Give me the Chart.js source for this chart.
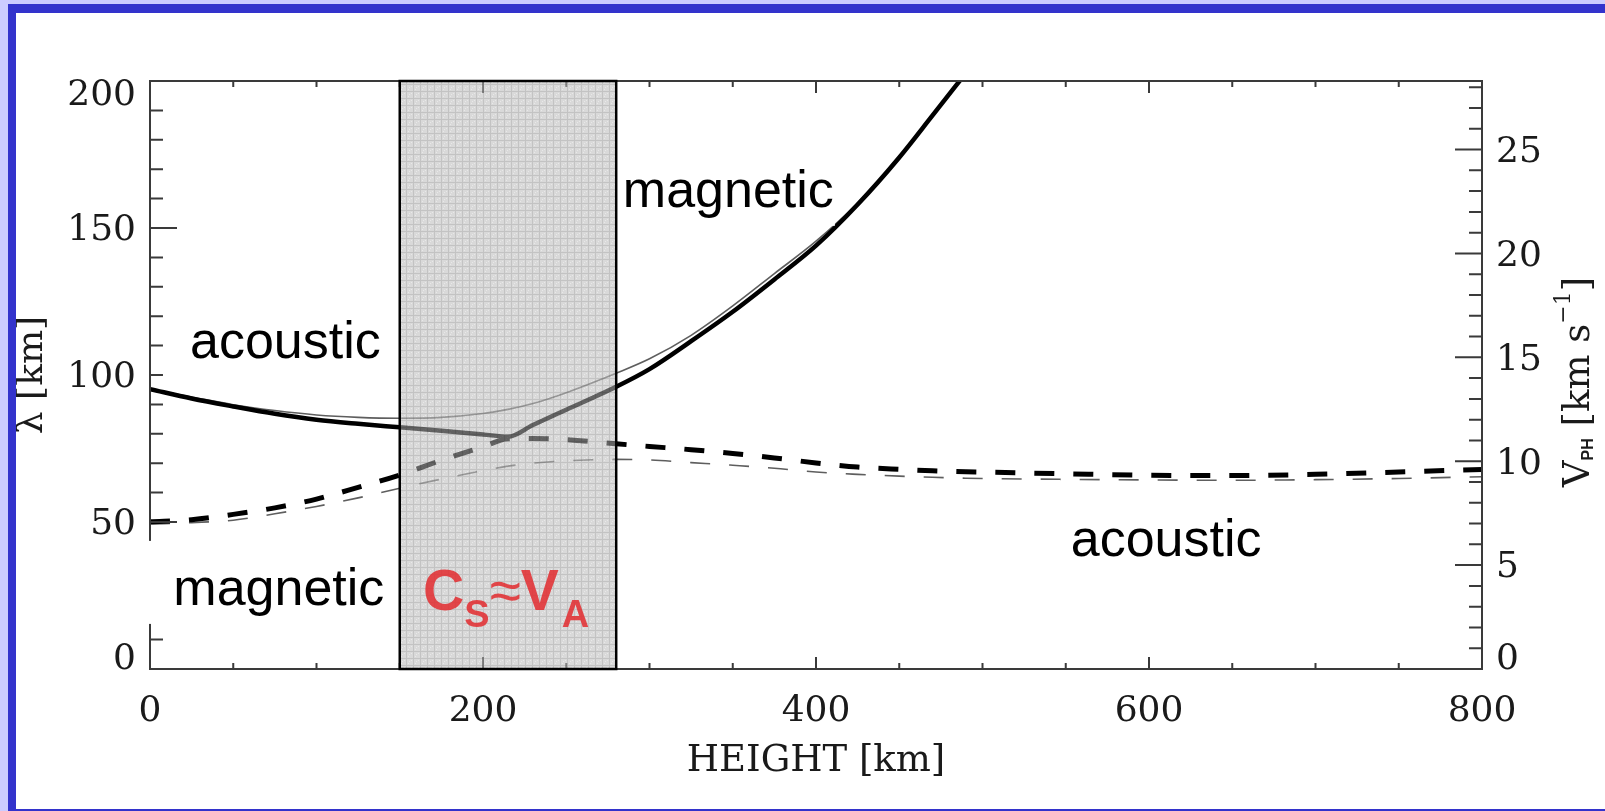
<!DOCTYPE html>
<html>
<head>
<meta charset="utf-8">
<title>Wavelength vs height</title>
<script src="https://cdn.jsdelivr.net/npm/chart.js@4.4.1/dist/chart.umd.min.js"></script>
<style>
  html, body { margin: 0; padding: 0; background: #fff; }
  #wrap { position: relative; width: 1605px; height: 811px; overflow: hidden; background: #fff; }
  #chart { position: absolute; left: 0; top: 0; }
  .frame { position: absolute; pointer-events: none; }
</style>
</head>
<body>
<div id="wrap">
  <canvas id="chart" width="1605" height="811"></canvas>
  <div class="frame" style="left:0;top:0;width:8px;height:811px;background:#ccccff"></div>
  <div class="frame" style="left:0;top:0;width:1605px;height:4px;background:#ccccff"></div>
  <div class="frame" style="left:8px;top:4px;width:8px;height:807px;background:#3333cc"></div>
  <div class="frame" style="left:8px;top:4px;width:1597px;height:9px;background:#3333cc"></div>
  <div class="frame" style="left:8px;top:809px;width:1597px;height:2px;background:#3333cc"></div>
</div>
<script>
// Height grid (km) shared by all four curves
const heightKm = [0, 25, 50, 75, 100, 125, 150, 175, 200, 215, 230, 250, 280, 300, 325, 350,
  375, 400, 425, 450, 470, 490, 500, 550, 600, 650, 700, 750, 800];

// wavelength lambda [km]
const lambdaSolidThick = [95.2, 92.0, 89.3, 86.8, 84.8, 83.4, 82.2, 81.0, 79.8, 79.0, 83.0, 88.2,
  96.0, 102.0, 111.5, 121.5, 132.5, 144.0, 158.0, 174.0, 188.3, 202.7, null, null, null, null, null, null, null];
const lambdaSolidThin = [95.2, 92.5, 89.9, 87.9, 86.4, 85.6, 85.3, 85.6, 86.9, 88.3, 90.3, 94.0,
  100.6, 105.5, 113.5, 123.5, 134.5, 145.5, 158.5, 174.0, 188.3, 202.7, null, null, null, null, null, null, null];
const lambdaDashThick = [50.1, 50.8, 52.6, 54.8, 57.8, 61.8, 66.0, 71.0, 75.6, 78.3, 78.4, 78.0,
  76.6, 75.7, 74.6, 73.3, 71.8, 70.1, 68.7, 67.9, 67.4, 67.1, 67.0, 66.4, 65.9, 65.8, 66.2, 67.0, 67.9];
const lambdaDashThin = [49.3, 49.8, 50.6, 52.8, 55.3, 58.2, 61.5, 64.6, 67.5, 69.0, 70.0, 70.8,
  71.3, 71.1, 70.2, 69.3, 68.3, 67.0, 66.2, 65.6, 65.2, 64.9, 64.8, 64.5, 64.3, 64.2, 64.4, 64.8, 65.4];

// tick labels
const heightTicks = [0, 200, 400, 600, 800];
const lambdaTicks = [0, 50, 100, 150, 200];
const vphTicks = [0, 5, 10, 15, 20, 25];

// region where c_s ~ v_A (km)
const overlapBand = [150, 280];

// region labels: left edge (km) and baseline (lambda)
const regionLabels = [
  { text: 'acoustic', h: 24, lam: 105.8 },
  { text: 'magnetic', h: 14, lam: 21.8 },
  { text: 'magnetic', h: 284, lam: 157.2 },
  { text: 'acoustic', h: 553, lam: 38.4 }
];

const serif = "'DejaVu Serif', 'Liberation Serif', serif";
const sans = "'Liberation Sans', Arial, sans-serif";

const toPoints = ys => heightKm.map((h, i) => ({ x: h, y: ys[i] }));

// end labels sit inside the frame, like the original plot
const edgeLabel = (min, max) => v => {
  if (v === max) return ['', String(v)];
  if (v === min) return [String(v), ''];
  return String(v);
};

// grey hatch used for the shaded band
const hatch = (() => {
  const c = document.createElement('canvas');
  c.width = 7; c.height = 7;
  const g = c.getContext('2d');
  g.fillStyle = '#d9d9d9'; g.fillRect(0, 0, 7, 7);
  g.fillStyle = '#c3c3c3'; g.fillRect(0, 0, 7, 1); g.fillRect(0, 0, 1, 7);
  g.fillStyle = '#e8e8e8'; g.fillRect(3, 3, 1, 1); g.fillRect(5, 2, 1, 1); g.fillRect(2, 5, 1, 1);
  return c;
})();

const bandRect = chart => {
  const { x } = chart.scales;
  const a = chart.chartArea;
  const x0 = x.getPixelForValue(overlapBand[0]);
  const x1 = x.getPixelForValue(overlapBand[1]);
  return { x0, x1, top: a.top, bottom: a.bottom };
};

const figurePlugin = {
  id: 'figure',
  beforeDatasetsDraw(chart) {
    const ctx = chart.ctx;
    const b = bandRect(chart);
    ctx.save();
    ctx.fillStyle = ctx.createPattern(hatch, 'repeat');
    ctx.fillRect(b.x0, b.top, b.x1 - b.x0, b.bottom - b.top);
    ctx.restore();
  },
  afterDatasetsDraw(chart) {
    const ctx = chart.ctx;
    const { x, y, y2 } = chart.scales;
    const a = chart.chartArea;
    ctx.save();

    // axes box and inward ticks
    ctx.strokeStyle = '#3a3a3a';
    ctx.lineWidth = 2;
    ctx.strokeRect(a.left, a.top, a.right - a.left, a.bottom - a.top);
    ctx.beginPath();
    for (let v = 0; v <= 800; v += 50) {
      const px = x.getPixelForValue(v);
      const len = v % 200 === 0 ? 12 : 6;
      ctx.moveTo(px, a.bottom); ctx.lineTo(px, a.bottom - len);
      ctx.moveTo(px, a.top); ctx.lineTo(px, a.top + len);
    }
    for (let v = 0; v <= 200; v += 10) {
      const py = y.getPixelForValue(v);
      const len = v % 50 === 0 ? 27 : 13;
      ctx.moveTo(a.left, py); ctx.lineTo(a.left + len, py);
    }
    for (let v = 0; v <= 28; v += 1) {
      const py = y2.getPixelForValue(v);
      const len = v % 5 === 0 ? 27 : 13;
      ctx.moveTo(a.right, py); ctx.lineTo(a.right - len, py);
    }
    ctx.stroke();

    // veil the band over curves and ticks
    const b = bandRect(chart);
    ctx.globalAlpha = 0.45;
    ctx.fillStyle = ctx.createPattern(hatch, 'repeat');
    ctx.fillRect(b.x0, b.top, b.x1 - b.x0, b.bottom - b.top);
    ctx.globalAlpha = 1;
    ctx.strokeStyle = '#000';
    ctx.lineWidth = 2.5;
    ctx.strokeRect(b.x0, b.top, b.x1 - b.x0, b.bottom - b.top);

    // region labels on white boxes (boxes never overlap the band)
    ctx.font = '52px ' + sans;
    ctx.textBaseline = 'alphabetic';
    ctx.textAlign = 'left';
    regionLabels.forEach(l => {
      const px = x.getPixelForValue(l.h);
      const py = y.getPixelForValue(l.lam);
      const w = ctx.measureText(l.text).width;
      let left = px - 27;
      let right = px + w + 1;
      if (px > b.x1) left = Math.max(left, b.x1 + 2);
      if (px < b.x0) right = Math.min(right + 6, b.x0 - 2);
      ctx.fillStyle = '#fff';
      ctx.fillRect(left, py - 64, right - left, 83);
      ctx.fillStyle = '#000';
      ctx.fillText(l.text, px, py);
    });

    // C_S ~ V_A
    let px = x.getPixelForValue(164);
    const py = y.getPixelForValue(20);
    ctx.fillStyle = 'rgba(226, 44, 48, 0.86)';
    const parts = [
      ['C', 'bold 57px ' + sans, 0],
      ['S', 'bold 38px ' + sans, 17],
      ['\u2248', '57px ' + sans, 0],
      ['V', 'bold 57px ' + sans, 0],
      ['A', 'bold 38px ' + sans, 17]
    ];
    parts.forEach(([t, f, dy]) => {
      ctx.font = f;
      ctx.fillText(t, px, py + dy);
      px += ctx.measureText(t).width + (t === 'V' ? 3 : 0);
    });

    // right axis title V_PH [km s^-1]
    ctx.fillStyle = '#1a1a1a';
    ctx.translate(1579, 382);
    ctx.rotate(-Math.PI / 2);
    const title = [
      ['V', '37px ' + serif, 0],
      ['PH', 'bold 16px ' + sans, 10],
      [' [km s', '37px ' + serif, 0],
      ['\u22121', '22px ' + serif, -15],
      [']', '37px ' + serif, 0]
    ];
    let total = 0;
    title.forEach(([t, f]) => { ctx.font = f; total += ctx.measureText(t).width; });
    let tx = -total / 2;
    ctx.textBaseline = 'middle';
    title.forEach(([t, f, dy]) => {
      ctx.font = f;
      ctx.fillText(t, tx, dy);
      tx += ctx.measureText(t).width;
    });
    ctx.restore();
  }
};

const tickFont = { family: serif, size: 36 };
const sideTickFont = { family: serif, size: 36, lineHeight: '24px' };

new Chart(document.getElementById('chart'), {
  type: 'line',
  data: {
    datasets: [
      { label: 'thick solid', data: toPoints(lambdaSolidThick), borderColor: '#000', borderWidth: 4.5, order: 1 },
      { label: 'thick dashed', data: toPoints(lambdaDashThick), borderColor: '#000', borderWidth: 5, borderDash: [20, 19], order: 2 },
      { label: 'thin solid', data: toPoints(lambdaSolidThin), borderColor: '#5e5e5e', borderWidth: 1.6, order: 3 },
      { label: 'thin dashed', data: toPoints(lambdaDashThin), borderColor: '#5e5e5e', borderWidth: 1.6, borderDash: [20, 19], order: 4 }
    ]
  },
  options: {
    responsive: false,
    animation: false,
    devicePixelRatio: 1,
    layout: { padding: { top: 81, left: 0, right: 0, bottom: 0 } },
    plugins: { legend: { display: false }, tooltip: { enabled: false } },
    elements: {
      point: { radius: 0 },
      line: { cubicInterpolationMode: 'monotone', borderCapStyle: 'butt', borderJoinStyle: 'round', fill: false }
    },
    scales: {
      x: {
        type: 'linear', min: 0, max: 800,
        grid: { display: false, drawTicks: false }, border: { display: false },
        afterBuildTicks: s => { s.ticks = heightTicks.map(v => ({ value: v })); },
        afterFit: s => { s.height = 142; },
        ticks: { font: tickFont, color: '#1a1a1a', padding: 21, maxRotation: 0, autoSkip: false },
        title: { display: true, text: 'HEIGHT [km]', font: { family: serif, size: 37 }, color: '#1a1a1a', padding: { top: 0, bottom: 27 } }
      },
      y: {
        position: 'left', min: 0, max: 200,
        grid: { display: false, drawTicks: false }, border: { display: false },
        afterBuildTicks: s => { s.ticks = lambdaTicks.map(v => ({ value: v })); },
        afterFit: s => { s.width = 150; },
        ticks: { font: sideTickFont, color: '#1a1a1a', padding: 14, labelOffset: 3, callback: edgeLabel(0, 200) },
        title: { display: true, text: '\u03bb [km]', font: { family: serif, size: 36 }, color: '#1a1a1a', padding: { top: 11, bottom: 0 } }
      },
      y2: {
        position: 'right', min: 0, max: 28.3,
        grid: { display: false, drawTicks: false }, border: { display: false },
        afterBuildTicks: s => { s.ticks = vphTicks.map(v => ({ value: v })); },
        afterFit: s => { s.width = 123; },
        ticks: { font: sideTickFont, color: '#1a1a1a', padding: 14, labelOffset: 3, includeBounds: false, callback: edgeLabel(0, 28.3) }
      }
    }
  },
  plugins: [figurePlugin]
});
</script>
</body>
</html>
